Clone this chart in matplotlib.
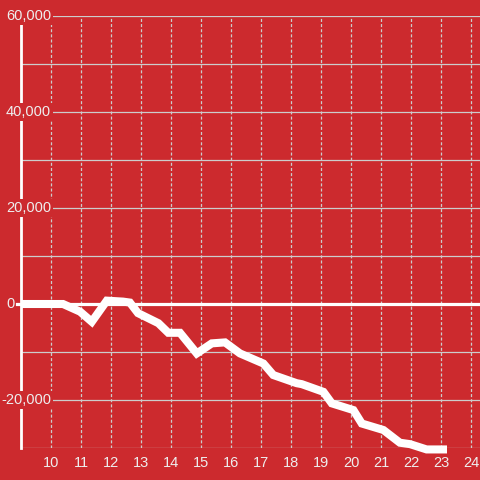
import matplotlib
matplotlib.use('Agg')
import matplotlib.pyplot as plt
import matplotlib.transforms as mtransforms

# Series
week = [9, 10.4, 10.97, 11.36, 11.86, 12.4, 12.63, 12.9, 13.58, 13.91, 14.3,
        14.86, 15.36, 15.8, 16.3, 17.08, 17.41, 18.19, 18.36, 19.08, 19.36,
        20.08, 20.36, 21.08, 21.63, 21.97, 22.52, 23.2]
value = [0, 0, -1600, -3700, 700, 500, 300, -1900, -4000, -6000, -6000,
         -10300, -8200, -8000, -10300, -12400, -14800, -16500, -16700,
         -18300, -20700, -22100, -24900, -26250, -28900, -29200, -30300, -30300]

x_ticks = list(range(10, 25))
y_grid = list(range(-30000, 60001, 10000))
y_labels = [60000, 40000, 20000, -20000]

bg = '#cc2a2e'
fg = '#eeeeee'
plt.rcParams['font.family'] = ['Liberation Sans', 'DejaVu Sans']
plt.rcParams['lines.scale_dashes'] = False

fig = plt.figure(figsize=(4.8, 4.8), dpi=100, facecolor=bg)
ax = fig.add_axes([21 / 480, 32 / 480, 459 / 480, 432 / 480])
ax.set_facecolor(bg)

ax.set_xlim(9, 24.3)
ax.set_ylim(-30000, 60000)

# grid
ax.set_yticks(y_grid)
ax.set_xticks(x_ticks)
ax.grid(axis='y', color='#cccccc', linewidth=0.9, linestyle='-')
ax.grid(axis='x', color='#cccccc', linewidth=0.9, linestyle=(0, (2.2, 1.5)))
ax.set_axisbelow(True)
ax.tick_params(axis='both', length=0)
ax.tick_params(axis='y', labelleft=False)
ax.tick_params(axis='x', labelsize=10.5, labelcolor=fg, pad=6)

for s in ['top', 'right', 'bottom']:
    ax.spines[s].set_visible(False)
ax.spines['left'].set_color('white')
ax.spines['left'].set_linewidth(2)

# zero line, sticks out a little to the left of the axis
ax.axhline(0, xmin=-4 / 459, xmax=1, color='white', linewidth=2.3,
           clip_on=False, zorder=3)

ax.plot(week, value, color='white', linewidth=5.8, solid_capstyle='butt',
        solid_joinstyle='miter', clip_on=False, zorder=4)

# y labels with red boxes over grid and spine
trans = mtransforms.blended_transform_factory(ax.transAxes, ax.transData)
for v in y_labels:
    ax.text(30 / 459, v, f'{v:,}', transform=trans, ha='right', va='center',
            fontsize=10.5, color=fg, zorder=5, clip_on=False,
            bbox=dict(facecolor=bg, edgecolor='none', pad=1.2))
ax.text(-6 / 459, 0, '0', transform=trans, ha='right', va='center',
        fontsize=10.5, color=fg, zorder=5, clip_on=False)

plt.savefig('out.png', dpi=100, facecolor=bg)
plt.close()
